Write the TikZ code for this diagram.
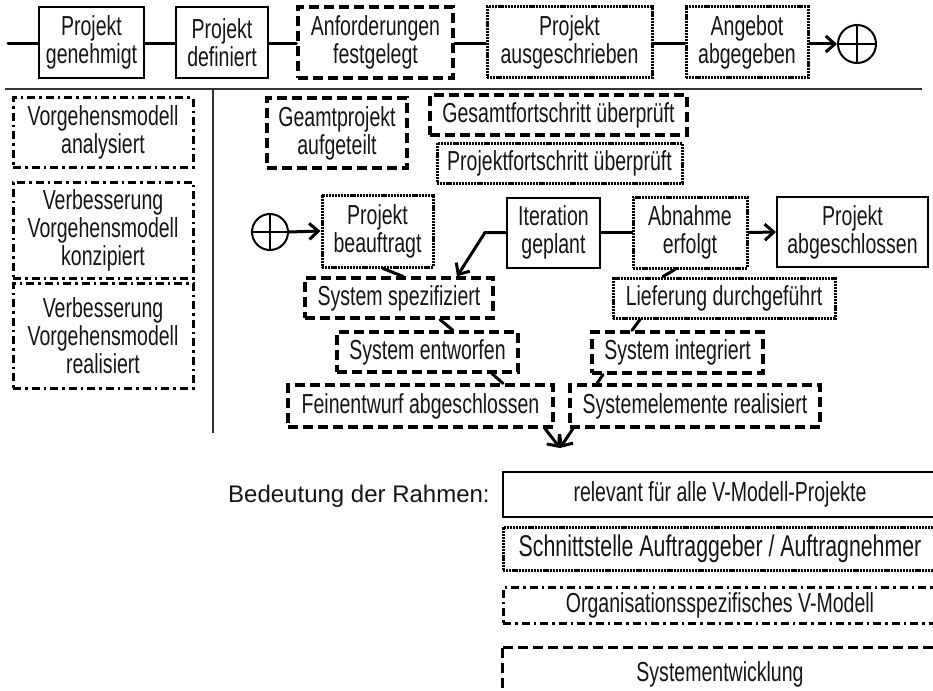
\documentclass[tikz,border=0pt]{standalone}
\usepackage{fontspec}
\setmainfont{Liberation Sans}[FakeStretch=0.71]
\newfontfamily\legfont{Liberation Sans}
\usetikzlibrary{arrows.meta}
\definecolor{txt}{HTML}{151515}
\tikzset{
  bx/.style={inner sep=0pt, align=center, text=txt, font=\fontsize{27.5}{28}\selectfont},
  solidbox/.style={bx, draw, line width=2pt},
  dashpat/.style={line width=3.2pt, dash pattern=on 10pt off 5pt},
  dashbox/.style={bx, draw, dashpat},
  dotbox/.style={bx, draw, line width=3pt, dash pattern=on 2.2pt off 0.9pt},
  dashdotbox/.style={bx, draw, line width=3pt, dash pattern=on 8pt off 4pt on 2.5pt off 4pt},
  conn/.style={line width=3pt, line cap=round},
  arr/.style={conn, -{Straight Barb[length=9pt,width=16pt,line width=3pt]}},
  junction/.style={circle, draw, line width=2pt, inner sep=0pt},
  sepline/.style={line width=2.5pt, draw=black!80},
  wh/.style 2 args={minimum width=#1pt, minimum height=#2pt},
}
\begin{document}
\begin{tikzpicture}[x=1pt,y=-1pt]
\useasboundingbox (0,0) rectangle (933,690);
\clip (0,0) rectangle (933,690);
\coordinate (edge) at (933,690);

% top row
\node[solidbox, wh={105}{71}] (pg) at (91.5,42.5) {Projekt\\genehmigt};
\node[solidbox, wh={92}{71}] (pd) at (222,42.5) {Projekt\\definiert};
\node[dashbox, wh={155}{71}] (af) at (375.5,42.5) {Anforderungen\\festgelegt};
\node[dotbox, wh={165}{71}] (pa) at (569.5,42.5) {Projekt\\ausgeschrieben};
\node[dotbox, wh={122}{71}] (ab) at (747,42.5) {Angebot\\abgegeben};
\node[junction, minimum size=38pt] (c1) at (857,44) {};
\draw[line width=2pt] (c1.north) -- (c1.south) (c1.west) -- (c1.east);
\coordinate (start) at (8,44);
\draw[conn] (start) -- (pg.west |- start);
\draw[conn] (pg.east |- start) -- (pd.west |- start);
\draw[conn] (pd.east |- start) -- (af.west |- start);
\draw[conn] (af.east |- start) -- (pa.west |- start);
\draw[conn] (pa.east |- start) -- (ab.west |- start);
\draw[arr] (ab.east |- start) -- (c1.west);

% separators
\coordinate (hl) at (5,89);
\coordinate (hr) at (922,89);
\coordinate (vt) at (213,89);
\coordinate (vb) at (213,433);
\draw[sepline] (hl) -- (hr);
\draw[sepline] (vt) -- (vb);

% left column
\node[dashdotbox, wh={180}{69}] (va) at (103,132.5) {Vorgehensmodell\\analysiert};
\node[dashdotbox, wh={180}{96}] (vk) at (103,230) {Verbesserung\\Vorgehensmodell\\konzipiert};
\node[dashdotbox, wh={180}{105}] (vr) at (103,335.5) {Verbesserung\\Vorgehensmodell\\realisiert};

% upper middle
\node[dashbox, wh={140}{70}] (ga) at (337,133) {Geamtprojekt\\aufgeteilt};
\node[dashbox, wh={257}{40}] (gf) at (558.5,115) {Gesamtfortschritt überprüft};
\node[dotbox, wh={245}{40}] (pf) at (559.5,163) {Projektfortschritt überprüft};

% V row
\node[junction, minimum size=36pt] (c2) at (270,232) {};
\draw[line width=2pt] (c2.north) -- (c2.south) (c2.west) -- (c2.east);
\node[dotbox, wh={111}{72}] (pb) at (377.5,231) {Projekt\\beauftragt};
\node[solidbox, wh={93}{70}] (ig) at (553.5,232.5) {Iteration\\geplant};
\node[dotbox, wh={114}{71}] (ae) at (690,232.5) {Abnahme\\erfolgt};
\node[solidbox, wh={151}{70}] (pab) at (852.5,232) {Projekt\\abgeschlossen};

\node[dashbox, wh={188}{40}] (ss) at (399,298) {System spezifiziert};
\node[dashbox, wh={181}{40}] (se) at (427.5,352) {System entworfen};
\node[dashbox, wh={265}{42}] (fa) at (420.5,406) {Feinentwurf abgeschlossen};
\node[dotbox, wh={222}{40}] (ld) at (724,298) {Lieferung durchgeführt};
\node[dashbox, wh={171}{41}] (si) at (677.5,352.5) {System integriert};
\node[dashbox, wh={250}{42}] (sr) at (695,406) {Systemelemente realisiert};

\draw[arr] (c2.east) -- (pb.west);
\coordinate (bend) at (485,232.5);
\draw[arr] (ig.west) -- (bend) -- ([xshift=58pt]ss.north);
\draw[conn] (ig.east) -- (ae.west);
\draw[arr] (ae.east) -- (pab.west);
\draw[conn] ([xshift=5.5pt]pb.south) -- ([xshift=4pt]ss.north);
\draw[conn] ([xshift=41pt]ss.south) -- ([xshift=25.5pt]se.north);
\draw[conn] ([xshift=64.5pt]se.south) -- ([xshift=82.5pt]fa.north);
\draw[conn] ([xshift=-15pt]ae.south) -- ([xshift=-61pt]ld.north);
\draw[conn] ([xshift=-84pt]ld.south) -- ([xshift=-45.5pt]si.north);
\draw[conn] ([xshift=-74.5pt]si.south) -- ([xshift=-98pt]sr.north);
\coordinate (meet) at (560,448);
\draw[arr] ([xshift=124.5pt]fa.south) -- (meet);
\draw[arr] ([xshift=-122pt]sr.south) -- (meet);

% legend
\node[anchor=base west, inner sep=0pt, text=txt, font=\legfont\fontsize{24}{26}\selectfont] (leg) at (228,502) {Bedeutung der Rahmen:};
\node[solidbox, wh={434}{45}] (l1) at (720,494.5) {relevant für alle V-Modell-Projekte};
\node[dotbox, wh={434}{43}, font=\fontsize{30}{30}\selectfont] (l2) at (720,548.5) {Schnittstelle Auftraggeber / Auftragnehmer};
\node[dashdotbox, wh={434}{36}] (l3) at (720,605) {Organisationsspezifisches V-Modell};
\node[bx, wh={434}{52}] (l4) at (720,674) {Systementwicklung};
\draw[dashpat] (l4.north west) -- (l4.north west -| edge);
\draw[dashpat] (l4.north west) -- (l4.north west |- edge);
\end{tikzpicture}
\end{document}
